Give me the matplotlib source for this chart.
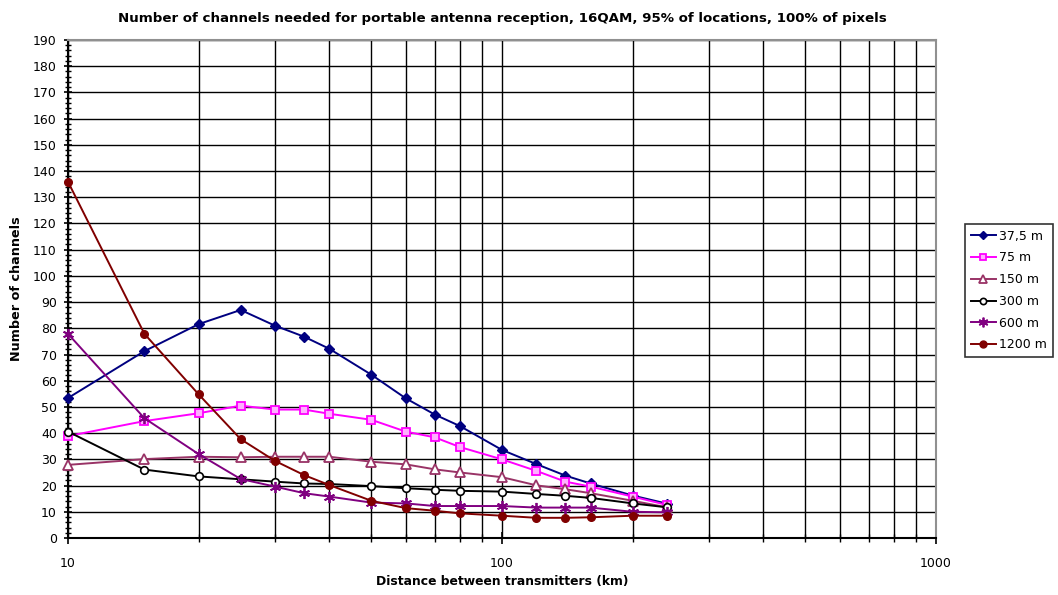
import matplotlib
matplotlib.use("Agg")
import matplotlib.pyplot as plt
from matplotlib.ticker import FixedLocator, MultipleLocator, NullFormatter

plt.rcParams['font.family'] = ['DejaVu Sans']

distance_km = [10, 15, 20, 25, 30, 35, 40, 50, 60, 70, 80, 100, 120, 140, 160, 200, 240]

ch_37_5 = [53.4, 71.3, 81.6, 87.0, 81.0, 76.8, 72.2, 62.3, 53.3, 47.1, 42.7, 33.6, 28.2, 23.8, 20.8, 16.2, 13.1]
ch_75 = [38.9, 44.6, 47.6, 50.5, 49.0, 49.0, 47.4, 45.1, 40.6, 38.4, 34.7, 30.0, 25.6, 21.5, 19.6, 15.8, 12.6]
ch_150 = [27.9, 30.1, 31.0, 30.8, 31.0, 31.0, 31.0, 29.1, 28.1, 26.2, 25.0, 23.2, 20.1, 18.6, 17.1, 14.2, 11.7]
ch_300 = [40.6, 26.1, 23.5, 22.4, 21.5, 20.8, 20.6, 19.8, 19.0, 18.4, 18.0, 17.7, 16.8, 16.1, 15.3, 13.2, 11.7]
ch_600 = [77.9, 45.7, 32.0, 22.5, 19.6, 17.1, 15.8, 13.5, 13.2, 12.2, 12.2, 12.2, 11.6, 11.6, 11.6, 10.0, 9.8]
ch_1200 = [135.9, 77.9, 54.8, 37.7, 29.4, 24.0, 20.2, 14.2, 11.4, 10.4, 9.4, 8.5, 7.7, 7.7, 7.9, 8.5, 8.5]

series_labels = ['37,5 m', '75 m', '150 m', '300 m', '600 m', '1200 m']

fig = plt.figure(figsize=(10.58, 5.95), dpi=100)
ax = fig.add_axes([68 / 1058, 57 / 595, (936 - 68) / 1058, (538 - 40) / 595])

styles = [
    dict(color='#000080', marker='D', markersize=5.5, mfc='#000080', mec='#000080'),
    dict(color='#FF00FF', marker='s', markersize=5.5, mfc='#FFB0FF', mec='#FF00FF', mew=1.3),
    dict(color='#993366', marker='^', markersize=7, mfc='white', mec='#993366', mew=1.3),
    dict(color='#000000', marker='o', markersize=5.5, mfc='white', mec='#000000', mew=1.2),
    dict(color='#800080', marker=(6, 2, 0), markersize=8, mfc='#800080', mec='#800080', mew=1.3),
    dict(color='#800000', marker='o', markersize=5.5, mfc='#800000', mec='#800000'),
]
legend_marker_sizes = [4.5, 4.5, 5.5, 4.5, 7, 5]

all_series = [ch_37_5, ch_75, ch_150, ch_300, ch_600, ch_1200]
for values, label, st in zip(all_series, series_labels, styles):
    ax.plot(distance_km, values, label=label, linewidth=1.4, zorder=3, clip_on=False, **st)

ax.set_xscale('log')
ax.set_xlim(10, 1000)
ax.set_ylim(0, 190)

ax.xaxis.set_major_locator(FixedLocator([10, 100, 1000]))
ax.xaxis.set_minor_locator(FixedLocator([v * d for d in (10, 100) for v in range(2, 10)]))
ax.xaxis.set_minor_formatter(NullFormatter())
ax.set_xticklabels(['10', '100', '1000'])
ax.yaxis.set_major_locator(MultipleLocator(10))
ax.yaxis.set_minor_locator(MultipleLocator(2))

ax.grid(True, which='major', axis='y', color='black', linewidth=1.0, zorder=1)
ax.grid(True, which='both', axis='x', color='black', linewidth=1.0, zorder=1)
ax.set_axisbelow(True)

for side in ('top', 'right'):
    ax.spines[side].set_color('#909090')
    ax.spines[side].set_linewidth(1.5)
for side in ('left', 'bottom'):
    ax.spines[side].set_color('black')
    ax.spines[side].set_linewidth(1.5)

ax.tick_params(axis='x', which='major', direction='inout', length=8, width=1.2, labelsize=9, pad=10)
ax.tick_params(axis='x', which='minor', direction='inout', length=6, width=1.0)
ax.tick_params(axis='y', which='major', direction='inout', length=6, width=1.2, labelsize=9, pad=5)
ax.tick_params(axis='y', which='minor', direction='inout', length=5, width=1.0)

ax.set_title('Number of channels needed for portable antenna reception, 16QAM, 95% of locations, 100% of pixels',
             fontsize=9.6, fontweight='bold', pad=13)
ax.set_xlabel('Distance between transmitters (km)', fontsize=8.9, fontweight='bold', labelpad=3)
ax.set_ylabel('Number of channels', fontsize=9.2, fontweight='bold', labelpad=7)

leg = fig.legend(loc='upper left', bbox_to_anchor=(965 / 1058, 1 - 224 / 595),
                 frameon=True, fancybox=False, fontsize=9, handlelength=2.0,
                 handletextpad=0.3, labelspacing=0.7, borderpad=0.45, borderaxespad=0)
leg.get_frame().set_edgecolor('black')
leg.get_frame().set_linewidth(1.2)
for h, ms in zip(leg.legend_handles, legend_marker_sizes):
    h.set_markersize(ms)

fig.savefig('out.png', dpi=100)
